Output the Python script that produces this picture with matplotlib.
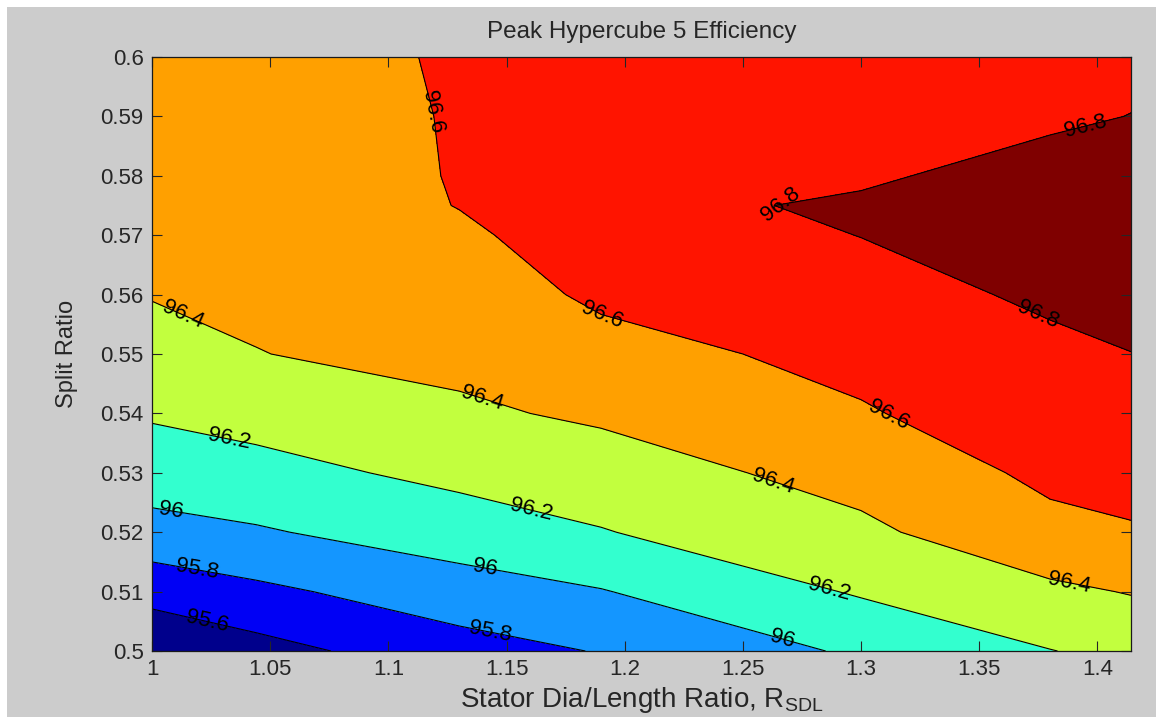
import numpy as np
import matplotlib
matplotlib.use("Agg")
import matplotlib.pyplot as plt
from matplotlib.patches import Rectangle

# Grid: stator diameter/length ratio (columns) and split ratio (rows)
rsdl = [1.0, 1.044, 1.13, 1.19, 1.30, 1.38, 1.4142]
split = [0.50, 0.51, 0.52, 0.53, 0.54, 0.55, 0.56, 0.57, 0.575, 0.58, 0.59, 0.60]

# Peak efficiency (%) - one row per split ratio, across rsdl
eff = [
    [95.43, 95.53, 95.72, 95.81, 96.03, 96.195, 96.25],    # 0.50
    [95.67, 95.757, 95.91, 95.99, 96.22, 96.36, 96.41],    # 0.51
    [95.93, 95.98, 96.10, 96.19, 96.36, 96.55, 96.585],    # 0.52
    [96.10, 96.137, 96.25, 96.31, 96.47, 96.64, 96.66],    # 0.53
    [96.22, 96.27, 96.37, 96.43, 96.585, 96.70, 96.73],    # 0.54
    [96.32, 96.396, 96.45, 96.54, 96.65, 96.76, 96.798],   # 0.55
    [96.41, 96.43, 96.51, 96.63, 96.73, 96.83, 96.85],     # 0.56
    [96.44, 96.46, 96.57, 96.69, 96.803, 96.88, 96.89],    # 0.57
    [96.46, 96.48, 96.605, 96.72, 96.84, 96.90, 96.90],    # 0.575
    [96.48, 96.50, 96.61, 96.71, 96.76, 96.91, 96.88],     # 0.58
    [96.51, 96.53, 96.61, 96.69, 96.72, 96.75, 96.805],    # 0.59
    [96.55, 96.56, 96.61, 96.67, 96.69, 96.70, 96.72],     # 0.60
]

line_levels = [95.6, 95.8, 96.0, 96.2, 96.4, 96.6, 96.8]
fill_levels = [95.0] + line_levels + [97.2]
band_colors = ["#00008C", "#0000F5", "#1496FF", "#33FFCF",
               "#C2FF3E", "#FFA000", "#FF1400", "#7F0000"]

x_ticks = [1.0, 1.05, 1.1, 1.15, 1.2, 1.25, 1.3, 1.35, 1.4]
y_ticks = [0.50, 0.51, 0.52, 0.53, 0.54, 0.55, 0.56, 0.57, 0.58, 0.59, 0.60]

# where the isoline values are written
label_spots = [
    (1.023, 0.5044),
    (1.019, 0.5136), (1.143, 0.5033),
    (1.008, 0.5230), (1.141, 0.5141), (1.267, 0.5022),
    (1.032, 0.5347), (1.160, 0.5230), (1.287, 0.5108),
    (1.012, 0.5554), (1.139, 0.5414), (1.261, 0.5263), (1.388, 0.5116),
    (1.113, 0.5902), (1.190, 0.5560), (1.312, 0.5402),
    (1.266, 0.5750), (1.395, 0.5886), (1.3735, 0.5554),
]

plt.rcParams["font.family"] = ["Liberation Sans", "DejaVu Sans"]
plt.rcParams["mathtext.fontset"] = "custom"
plt.rcParams["mathtext.rm"] = "Liberation Sans"
text_color = "#262626"

fig = plt.figure(figsize=(11.56, 7.17), dpi=100, facecolor="#cccccc")
# thin white margin along the top and left edges
fig.patches.append(Rectangle((0, 1 - 7 / 717), 1, 7 / 717, transform=fig.transFigure,
                             facecolor="white", edgecolor="none", zorder=-10))
fig.patches.append(Rectangle((0, 0), 7 / 1156, 1, transform=fig.transFigure,
                             facecolor="white", edgecolor="none", zorder=-10))

ax = fig.add_axes([152 / 1156, 1 - 651 / 717, 979 / 1156, 594 / 717])

X, Y = np.meshgrid(np.array(rsdl), np.array(split))
Z = np.array(eff)

ax.contourf(X, Y, Z, levels=fill_levels, colors=band_colors)
cs = ax.contour(X, Y, Z, levels=line_levels, colors="k", linewidths=0.8)
labels = ax.clabel(cs, fmt="%g", fontsize=16, inline=False, manual=label_spots,
                   colors="k")

ax.set_xlim(rsdl[0], rsdl[-1])
ax.set_ylim(split[0], split[-1])
ax.set_xticks(x_ticks)
ax.set_yticks(y_ticks)
ax.set_xticklabels([f"{v:g}" for v in x_ticks])
ax.set_yticklabels([f"{v:g}" for v in y_ticks])
ax.tick_params(direction="in", length=7, width=0.8, top=True, right=True,
               labelsize=16, pad=6, colors=text_color)
for sp in ax.spines.values():
    sp.set_linewidth(0.9)
    sp.set_color("#1a1a1a")

ax.set_title("Peak Hypercube 5 Efficiency", fontsize=17.5, pad=14, color=text_color)
ax.set_xlabel(r"Stator Dia/Length Ratio, $\mathrm{R_{SDL}}$", fontsize=20,
              color=text_color)
ax.set_ylabel("Split Ratio", fontsize=17, color=text_color)
ax.xaxis.set_label_coords(0.5, -0.058)
ax.yaxis.set_label_coords(-0.076, 0.5)

fig.savefig("out.png", dpi=100, facecolor=fig.get_facecolor())
